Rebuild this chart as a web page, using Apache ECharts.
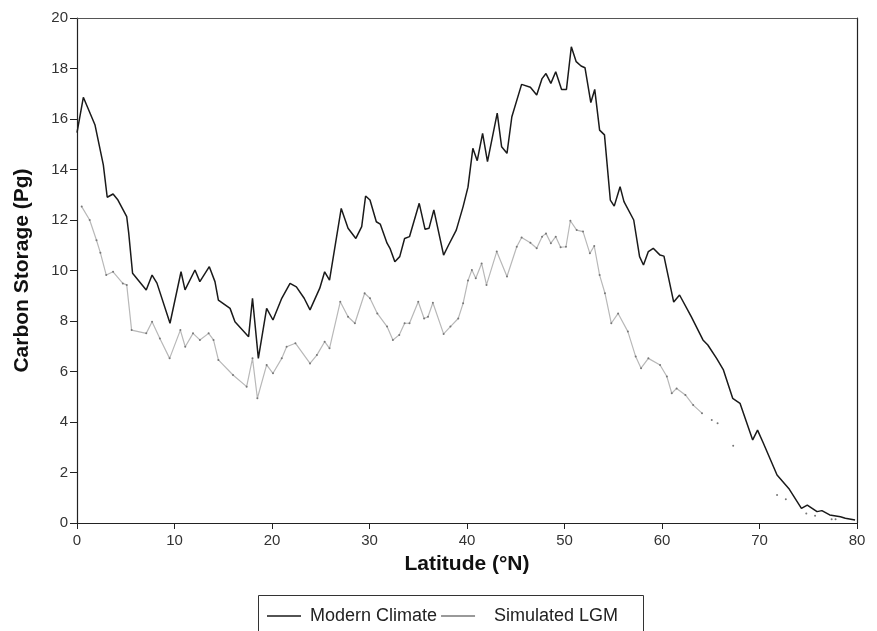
<!DOCTYPE html>
<html>
<head>
<meta charset="utf-8">
<script src="https://cdn.jsdelivr.net/npm/echarts@6/dist/echarts.min.js"></script>
<style>html,body{margin:0;padding:0;background:#fff;}#c{width:877px;height:631px;}</style>
</head>
<body>
<div id="c"></div>
<script>
const modernLat = [0,0.65,1.85,2.7,3.1,3.7,4.2,5.1,5.3,5.7,7.1,7.7,8.2,9.54,10.67,11.08,12.1,12.6,13.57,14.15,14.5,15.7,16.2,17.6,18.0,18.6,19.45,20.1,21.0,21.85,22.5,23.3,23.9,24.9,25.4,25.9,27.1,27.8,28.6,29.2,29.6,30.05,30.7,31.1,31.8,32.1,32.6,33.1,33.6,34.1,35.1,35.7,36.1,36.6,37.6,38.1,38.9,39.6,40.1,40.6,41.05,41.6,42.1,43.1,43.55,44.1,44.6,45.6,46.5,47.15,47.7,48.1,48.6,49.1,49.7,50.2,50.7,51.2,51.7,52.1,52.7,53.1,53.6,54.1,54.7,55.1,55.7,56.1,57.1,57.7,58.1,58.6,59.1,59.8,60.2,61.2,61.8,63.0,64.2,64.7,65.6,66.3,67.25,68.0,69.3,69.8,70.4,71.8,73.0,74.3,74.9,75.9,76.4,77.2,78.3,78.8,79.8];
const modernVal = [15.46,16.86,15.76,14.18,12.9,13.03,12.79,12.13,11.5,9.89,9.23,9.82,9.5,7.91,9.95,9.23,10.02,9.56,10.15,9.56,8.83,8.5,7.97,7.38,8.9,6.52,8.5,8.04,8.9,9.49,9.35,8.9,8.44,9.3,9.95,9.62,12.46,11.67,11.27,11.74,12.95,12.79,11.93,11.84,11.08,10.88,10.35,10.55,11.27,11.34,12.66,11.63,11.67,12.4,10.61,11.0,11.6,12.53,13.3,14.84,14.35,15.43,14.31,16.23,14.9,14.64,16.09,17.37,17.26,16.95,17.6,17.8,17.41,17.87,17.17,17.17,18.86,18.27,18.1,18.03,16.65,17.17,15.56,15.37,12.79,12.55,13.32,12.73,12.0,10.55,10.22,10.75,10.88,10.61,10.57,8.75,9.03,8.17,7.25,7.05,6.52,6.06,4.94,4.74,3.29,3.68,3.16,1.9,1.37,0.58,0.71,0.45,0.49,0.32,0.25,0.19,0.12];
// null entries mark gaps where the LGM trace fades to isolated dots
const lgmLat = [0.48,1.3,2.0,2.4,3.0,3.7,4.7,5.1,5.6,7.1,7.7,8.5,9.5,10.6,11.1,11.9,12.6,13.5,14.0,14.5,16.0,17.4,18.0,18.5,19.45,20.1,21.0,21.5,22.4,23.9,24.6,25.4,25.9,27.0,27.8,28.5,29.5,30.05,30.8,31.8,32.4,33.05,33.6,34.1,35.0,35.6,36.0,36.5,37.6,38.3,39.1,39.6,40.1,40.5,40.9,41.5,42.0,43.05,44.1,45.1,45.6,46.5,47.15,47.7,48.1,48.6,49.1,49.6,50.15,50.6,51.25,51.9,52.6,53.05,53.6,54.15,54.8,55.5,56.5,57.3,57.85,58.6,59.8,60.5,61.0,61.5,62.4,63.2,64.1,64.6,65.1,65.4,65.7,66.5,67.3,69.5,71.8,72.2,72.7,73.8,74.8,75.2,75.7,76.5,77.4,77.6,77.8];
const lgmVal = [12.53,12.0,11.2,10.7,9.82,9.95,9.49,9.43,7.64,7.51,7.97,7.31,6.52,7.64,6.98,7.51,7.25,7.51,7.25,6.46,5.86,5.4,6.52,4.94,6.26,5.93,6.52,6.98,7.12,6.32,6.65,7.18,6.92,8.76,8.17,7.91,9.1,8.9,8.3,7.78,7.25,7.45,7.91,7.91,8.76,8.1,8.17,8.72,7.49,7.78,8.1,8.7,9.6,10.02,9.69,10.28,9.43,10.75,9.76,10.94,11.31,11.1,10.88,11.34,11.47,11.08,11.34,10.92,10.94,11.97,11.6,11.54,10.68,10.97,9.82,9.1,7.91,8.3,7.58,6.59,6.13,6.52,6.26,5.8,5.14,5.33,5.07,4.67,4.35,null,4.08,null,3.95,null,3.06,null,1.11,null,0.94,null,0.38,null,0.29,null,0.15,null,0.15];
const seriesNames = ['Modern Climate', 'Simulated LGM'];
const xTitle = 'Latitude (°N)';
const yTitle = 'Carbon Storage (Pg)';

const font = 'Liberation Sans, Arial, Helvetica, sans-serif';
const chart = echarts.init(document.getElementById('c'), null, {renderer: 'canvas'});
const toData = (xs, ys) => xs.map((x, i) => [x, ys[i] === null ? '-' : ys[i]]);
chart.setOption({
  animation: false,
  backgroundColor: '#fff',
  grid: {left: 77, right: 20, top: 18, bottom: 108},
  xAxis: [{
    type: 'value', min: 0, max: 80, interval: 10,
    name: xTitle, nameLocation: 'middle', nameGap: 31,
    nameTextStyle: {fontFamily: font, fontWeight: 'bold', fontSize: 21, color: '#111'},
    axisLine: {show: true, lineStyle: {color: '#222', width: 1.2}},
    axisTick: {show: true, length: 6, lineStyle: {color: '#222'}},
    axisLabel: {fontFamily: font, fontSize: 15, color: '#333', margin: 10},
    splitLine: {show: false}
  }, {
    type: 'value', min: 0, max: 80, position: 'top',
    axisLine: {show: true, onZero: false, lineStyle: {color: '#555', width: 1.2}},
    axisTick: {show: false}, axisLabel: {show: false}, splitLine: {show: false}
  }],
  yAxis: [{
    type: 'value', min: 0, max: 20, interval: 2,
    name: yTitle, nameLocation: 'middle', nameGap: 44,
    nameTextStyle: {fontFamily: font, fontWeight: 'bold', fontSize: 21, color: '#111'},
    axisLine: {show: true, lineStyle: {color: '#222', width: 1.2}},
    axisTick: {show: true, length: 7, lineStyle: {color: '#222'}},
    axisLabel: {fontFamily: font, fontSize: 15, color: '#333', margin: 9},
    splitLine: {show: false}
  }, {
    type: 'value', min: 0, max: 20, position: 'right',
    axisLine: {show: true, onZero: false, lineStyle: {color: '#222', width: 1.2}},
    axisTick: {show: false}, axisLabel: {show: false}, splitLine: {show: false}
  }],
  legend: {
    left: 262, top: 602, padding: 5,
    itemWidth: 34, itemHeight: 1.5, itemGap: 4,
    icon: 'rect',
    textStyle: {fontFamily: font, fontSize: 18, color: '#222'},
    data: [
      {name: seriesNames[0], textStyle: {padding: [0, 0, 0, 4]}},
      {name: seriesNames[1], textStyle: {padding: [0, 0, 0, 14]}}
    ]
  },
  graphic: [{
    type: 'rect', shape: {x: 258.5, y: 595.5, width: 385, height: 50},
    style: {fill: 'none', stroke: '#333', lineWidth: 1}
  }],
  series: [{
    name: seriesNames[0], type: 'line', xAxisIndex: 0, yAxisIndex: 0,
    data: toData(modernLat, modernVal),
    symbol: 'none', lineStyle: {color: '#1a1a1a', width: 1.5}, itemStyle: {color: '#1a1a1a'},
    z: 3
  }, {
    name: seriesNames[1], type: 'line', xAxisIndex: 0, yAxisIndex: 0,
    data: toData(lgmLat, lgmVal),
    symbol: 'circle', symbolSize: 2, showSymbol: true,
    lineStyle: {color: '#b8b8b8', width: 1.2}, itemStyle: {color: '#777'},
    z: 2
  }]
});
</script>
</body>
</html>
